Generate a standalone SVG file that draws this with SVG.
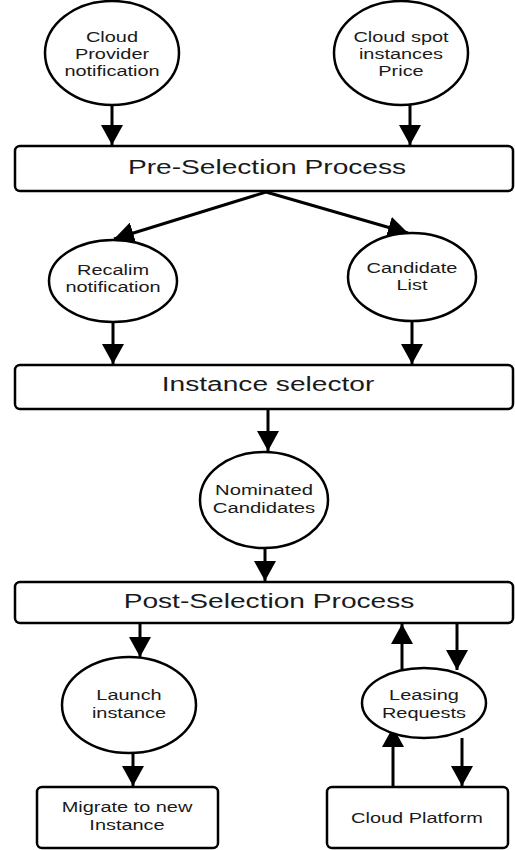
<svg xmlns="http://www.w3.org/2000/svg" width="515" height="850" viewBox="0 0 515 850">
<defs>
<marker id="ah" markerUnits="userSpaceOnUse" markerWidth="22" markerHeight="22" refX="20" refY="11" orient="auto">
<path d="M0,0 L20,11 L0,22 z" fill="#000"/>
</marker>
<style>
.n{fill:#fff;stroke:#000;stroke-width:2.5}
.t{font-family:"Liberation Sans",Arial,sans-serif;font-size:15px;fill:#1a1a1a;text-anchor:middle}
.b{font-family:"Liberation Sans",Arial,sans-serif;font-size:21px;fill:#1a1a1a;text-anchor:middle}
.c{fill:none;stroke:#000;stroke-width:3;marker-end:url(#ah)}
</style>
</defs>
<rect width="515" height="850" fill="#fff"/>
<g id="connectors">
<line class="c" x1="112" y1="105" x2="112" y2="145"/>
<line class="c" x1="410" y1="105" x2="410" y2="145"/>
<line class="c" x1="266" y1="192" x2="114" y2="239"/>
<line class="c" x1="266" y1="192" x2="408" y2="233"/>
<line class="c" x1="113" y1="322" x2="113" y2="364"/>
<line class="c" x1="412" y1="321" x2="412" y2="364"/>
<line class="c" x1="268" y1="409" x2="268" y2="451"/>
<line class="c" x1="265" y1="548" x2="265" y2="581"/>
<line class="c" x1="140" y1="623" x2="140" y2="657"/>
<line class="c" x1="133" y1="753" x2="133" y2="786"/>
<line class="c" x1="402" y1="669" x2="402" y2="624"/>
<line class="c" x1="457" y1="623" x2="457" y2="670"/>
<line class="c" x1="393" y1="787" x2="393" y2="727"/>
<line class="c" x1="462" y1="738" x2="462" y2="786"/>
</g>
<g id="cloud-provider-notification">
<ellipse class="n" cx="112" cy="53" rx="67" ry="52"/>
<text class="t" transform="translate(112,0) scale(1.33,1)"><tspan x="0" y="42">Cloud</tspan><tspan x="0" y="59">Provider</tspan><tspan x="0" y="76">notification</tspan></text>
</g>
<g id="cloud-spot-price">
<ellipse class="n" cx="401" cy="53" rx="67" ry="52"/>
<text class="t" transform="translate(401,0) scale(1.33,1)"><tspan x="0" y="42">Cloud spot</tspan><tspan x="0" y="59">instances</tspan><tspan x="0" y="76">Price</tspan></text>
</g>
<g id="pre-selection">
<rect class="n" x="15" y="146" width="498" height="45" rx="5"/>
<text class="b" transform="translate(267,0) scale(1.34,1)" x="0" y="174">Pre-Selection Process</text>
</g>
<g id="recalim-notification">
<ellipse class="n" cx="113" cy="281" rx="64" ry="41"/>
<text class="t" transform="translate(113,0) scale(1.33,1)"><tspan x="0" y="275">Recalim</tspan><tspan x="0" y="292">notification</tspan></text>
</g>
<g id="candidate-list">
<ellipse class="n" cx="412" cy="277" rx="64" ry="44"/>
<text class="t" transform="translate(412,0) scale(1.33,1)"><tspan x="0" y="273">Candidate</tspan><tspan x="0" y="290">List</tspan></text>
</g>
<g id="instance-selector">
<rect class="n" x="15" y="365" width="498" height="44" rx="5"/>
<text class="b" transform="translate(268,0) scale(1.34,1)" x="0" y="391">Instance selector</text>
</g>
<g id="nominated-candidates">
<ellipse class="n" cx="264" cy="500" rx="64" ry="48"/>
<text class="t" transform="translate(264,0) scale(1.35,1)"><tspan x="0" y="495">Nominated</tspan><tspan x="0" y="513">Candidates</tspan></text>
</g>
<g id="post-selection">
<rect class="n" x="15" y="582" width="498" height="41" rx="5"/>
<text class="b" transform="translate(269,0) scale(1.34,1)" x="0" y="608">Post-Selection Process</text>
</g>
<g id="launch-instance">
<ellipse class="n" cx="129" cy="705" rx="67" ry="48"/>
<text class="t" transform="translate(129,0) scale(1.33,1)"><tspan x="0" y="700">Launch</tspan><tspan x="0" y="718">instance</tspan></text>
</g>
<g id="leasing-requests">
<ellipse class="n" cx="424" cy="703" rx="62" ry="35"/>
<text class="t" transform="translate(424,0) scale(1.33,1)"><tspan x="0" y="700">Leasing</tspan><tspan x="0" y="718">Requests</tspan></text>
</g>
<g id="migrate">
<rect class="n" x="37" y="787" width="181" height="61" rx="5"/>
<text class="t" transform="translate(127,0) scale(1.33,1)"><tspan x="0" y="812">Migrate to new</tspan><tspan x="0" y="830">Instance</tspan></text>
</g>
<g id="cloud-platform">
<rect class="n" x="327" y="787" width="181" height="61" rx="5"/>
<text class="t" transform="translate(417,0) scale(1.33,1)" x="0" y="823">Cloud Platform</text>
</g>
</svg>
